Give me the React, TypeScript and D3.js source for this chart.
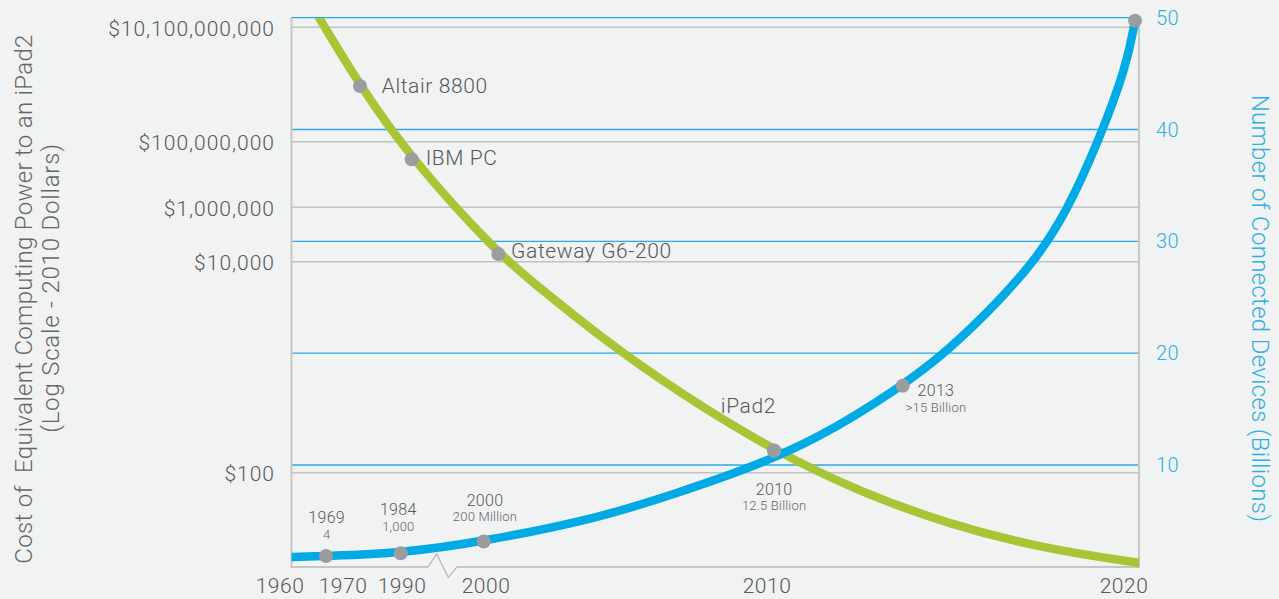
import React from "react";
import * as d3 from "d3";

// ---------- data ----------
const YEAR_TICKS = [1960, 1970, 1990, 2000, 2010, 2020];
const COST_TICKS = [100, 1e4, 1e6, 1e8, 1.01e10];
const COST_TICK_LABELS = ["$100", "$10,000", "$1,000,000", "$100,000,000", "$10,100,000,000"];
const DEVICE_TICKS = [10, 20, 30, 40, 50];

const COST_YEARS = [1965.08, 1966.24, 1975.76, 1991.15, 2000.44, 2001.57, 2004.06, 2006.9, 2010.2, 2012.61, 2014.99, 2017.65, 2020.4, 2020.59];
const COST_VALUES = [2.38e10, 1.47e10, 9.46e8, 2.9e7, 1.92e4, 6714, 1932, 566, 161, 65.6, 33.3, 19.3, 14.0, 13.8];

const DEVICE_YEARS = [1960.95, 1967.3, 1989.56, 1999.73, 2004.06, 2006.9, 2009.04, 2011.39, 2013.8, 2015.03, 2016.53, 2017.56, 2018.39, 2019.28, 2020.07, 2020.31];
const DEVICE_VALUES = [1.744, 1.86, 2.1, 3.157, 5.26, 7.58, 9.4, 12.23, 17.09, 20.1, 24.75, 28.51, 32.62, 38.88, 45.62, 49.73];

const COST_MILESTONES = [
  { name: "Altair 8800", year: 1975.76, cost: 9.46e8 },
  { name: "IBM PC", year: 1991.15, cost: 2.9e7 },
  { name: "Gateway G6-200", year: 2000.44, cost: 1.92e4 },
  { name: "iPad2", year: 2010.2, cost: 161 },
];

const DEVICE_MILESTONES = [
  { label: "1969", sub: "4", year: 1967.3, value: 1.86 },
  { label: "1984", sub: "1,000", year: 1989.56, value: 2.1 },
  { label: "2000", sub: "200 Million", year: 1999.73, value: 3.157 },
  { label: "2010", sub: "12.5 Billion", year: 2010.2, value: 11.3 },
  { label: "2013", sub: ">15 Billion", year: 2013.8, value: 17.09 },
  { label: "", sub: "", year: 2020.31, value: 49.73 },
];

// ---------- layout ----------
const W = 1279;
const H = 599;
const PLOT = { left: 291.5, right: 1139, top: 18, bottom: 567 };

const COST_LABEL_OFFSETS: Record<string, [number, number]> = {
  "Altair 8800": [21.7, 6.7],
  "IBM PC": [14, 5.7],
  "Gateway G6-200": [12.7, 4.3],
  iPad2: [-53.3, -38],
};
const DEVICE_LABEL_OFFSETS: Record<string, [number, number, number]> = {
  "1969": [0.7, -32.7, -17],
  "1984": [-2.4, -38, -22.3],
  "2000": [1.3, -35.8, -20.8],
  "2010": [0, 44.3, 60],
  "2013": [33.3, 10.3, 26.6],
};

const GREEN = "#a8c536";
const BLUE = "#00aae4";
const BLUE_TEXT = "#2eb0e4";
const DOT = "#9b9ca0";
const TEXT = "#585858";
const SUBTEXT = "#666666";
const FONT = "Roboto, 'Open Sans', sans-serif";

export default function App() {
  const x = d3.scaleLinear().domain(YEAR_TICKS).range([280, 343, 402, 486, 767, 1124]);
  const yCost = d3.scaleLog().domain(COST_TICKS).range([472.7, 261.7, 207.3, 141.7, 27.3]);
  const yDev = d3.scaleLinear().domain([0, 50]).range([576.8, 17.7]);

  const costLine = d3
    .line<number>()
    .x((_, i) => x(COST_YEARS[i]))
    .y((_, i) => yCost(COST_VALUES[i]))
    .curve(d3.curveBasis);
  const devLine = d3
    .line<number>()
    .x((_, i) => x(DEVICE_YEARS[i]))
    .y((_, i) => yDev(DEVICE_VALUES[i]))
    .curve(d3.curveBasis);

  const axisGray = "#c6c6c6";
  const gridGray = "#c2c2c2";

  // zig-zag break on the bottom axis
  const zig = d3.line()([
    [428.3, 566.7],
    [436.7, 554],
    [448.3, 577.3],
    [456.7, 567.3],
  ]);

  return (
    <div style={{ position: "fixed", left: 0, top: 0, width: W, height: H, background: "#f1f2f2" }}>
      <svg width={W} height={H} style={{ display: "block", fontFamily: FONT }}>
        <defs>
          <clipPath id="plotClip">
            <rect x={PLOT.left} y={PLOT.top} width={PLOT.right - PLOT.left} height={PLOT.bottom - PLOT.top} />
          </clipPath>
        </defs>
        <rect width={W} height={H} fill="#f1f2f2" />

        {/* gray cost gridlines */}
        {COST_TICKS.map((t, i) => (
          <line key={"g" + i} x1={PLOT.left} x2={PLOT.right} y1={yCost(t)} y2={yCost(t)} stroke={gridGray} strokeWidth={1.4} />
        ))}
        {/* blue device gridlines */}
        {DEVICE_TICKS.map((t, i) => (
          <line key={"b" + i} x1={PLOT.left} x2={PLOT.right} y1={yDev(t)} y2={yDev(t)} stroke="#29abe2" strokeWidth={1.3} />
        ))}

        {/* axes frame */}
        <line x1={PLOT.left} x2={PLOT.left} y1={PLOT.top} y2={PLOT.bottom} stroke={axisGray} strokeWidth={2} />
        <line x1={PLOT.right} x2={PLOT.right} y1={PLOT.top} y2={PLOT.bottom} stroke={axisGray} strokeWidth={2} />
        <line x1={PLOT.left - 1} x2={428.3} y1={PLOT.bottom} y2={PLOT.bottom} stroke={axisGray} strokeWidth={2} />
        <line x1={456.7} x2={PLOT.right + 1} y1={PLOT.bottom} y2={PLOT.bottom} stroke={axisGray} strokeWidth={2} />
        <path d={zig || ""} fill="none" stroke="#b8b8b8" strokeWidth={1.3} />

        {/* curves */}
        <g clipPath="url(#plotClip)">
          <path d={costLine(COST_YEARS) || ""} fill="none" stroke={GREEN} strokeWidth={8.5} />
          <path d={devLine(DEVICE_YEARS) || ""} fill="none" stroke={BLUE} strokeWidth={8.5} />
        </g>

        {/* milestone dots */}
        {COST_MILESTONES.map((m) => (
          <circle key={"cd" + m.name} cx={x(m.year)} cy={yCost(m.cost)} r={7} fill={DOT} />
        ))}
        {DEVICE_MILESTONES.map((m, i) => (
          <circle key={"dd" + i} cx={x(m.year)} cy={yDev(m.value)} r={7} fill={DOT} />
        ))}

        {/* cost milestone labels */}
        {COST_MILESTONES.map((m) => {
          const o = COST_LABEL_OFFSETS[m.name];
          return (
            <text key={"cl" + m.name} x={x(m.year) + o[0]} y={yCost(m.cost) + o[1]} fill={TEXT} fontSize={21} fontWeight={300} letterSpacing={0.6}>
              {m.name}
            </text>
          );
        })}

        {/* device milestone labels */}
        {DEVICE_MILESTONES.filter((m) => m.label).map((m) => {
          const o = DEVICE_LABEL_OFFSETS[m.label];
          const cx = x(m.year) + o[0];
          const cy = yDev(m.value);
          return (
            <g key={"dl" + m.label}>
              <text x={cx} y={cy + o[1]} fill={TEXT} fontSize={16} fontWeight={300} letterSpacing={0.3} textAnchor="middle">
                {m.label}
              </text>
              <text x={cx} y={cy + o[2]} fill={SUBTEXT} fontSize={13} fontWeight={300} letterSpacing={0.2} textAnchor="middle">
                {m.sub}
              </text>
            </g>
          );
        })}

        {/* left tick labels */}
        {COST_TICKS.map((t, i) => (
          <text key={"lt" + i} x={275} y={yCost(t) + 1.5} fill={TEXT} fontSize={21} fontWeight={300} letterSpacing={1} textAnchor="end" dominantBaseline="central">
            {COST_TICK_LABELS[i]}
          </text>
        ))}

        {/* right tick labels */}
        {DEVICE_TICKS.map((t, i) => (
          <text key={"rt" + i} x={1156} y={yDev(t)} fill={BLUE_TEXT} fontSize={20} fontWeight={300} letterSpacing={0.4} dominantBaseline="central">
            {t}
          </text>
        ))}

        {/* bottom tick labels */}
        {YEAR_TICKS.map((t) => (
          <text key={"bt" + t} x={x(t)} y={593} fill={TEXT} fontSize={21} fontWeight={300} letterSpacing={0.5} textAnchor="middle">
            {t}
          </text>
        ))}

        {/* axis titles */}
        <text transform="translate(31.7,299) rotate(-90)" fill={SUBTEXT} fontSize={24} fontWeight={300} letterSpacing={0.3} textAnchor="middle" style={{ whiteSpace: "pre" }}>
          {"Cost of  Equivalent Computing Power to an iPad2"}
        </text>
        <text transform="translate(59.3,288) rotate(-90)" fill={SUBTEXT} fontSize={24} fontWeight={300} letterSpacing={0.8} textAnchor="middle">
          (Log Scale - 2010 Dollars)
        </text>
        <text transform="translate(1251.7,308.5) rotate(90)" fill={BLUE_TEXT} fontSize={24} fontWeight={300} letterSpacing={0.3} textAnchor="middle">
          Number of Connected Devices (Billions)
        </text>
      </svg>
    </div>
  );
}
